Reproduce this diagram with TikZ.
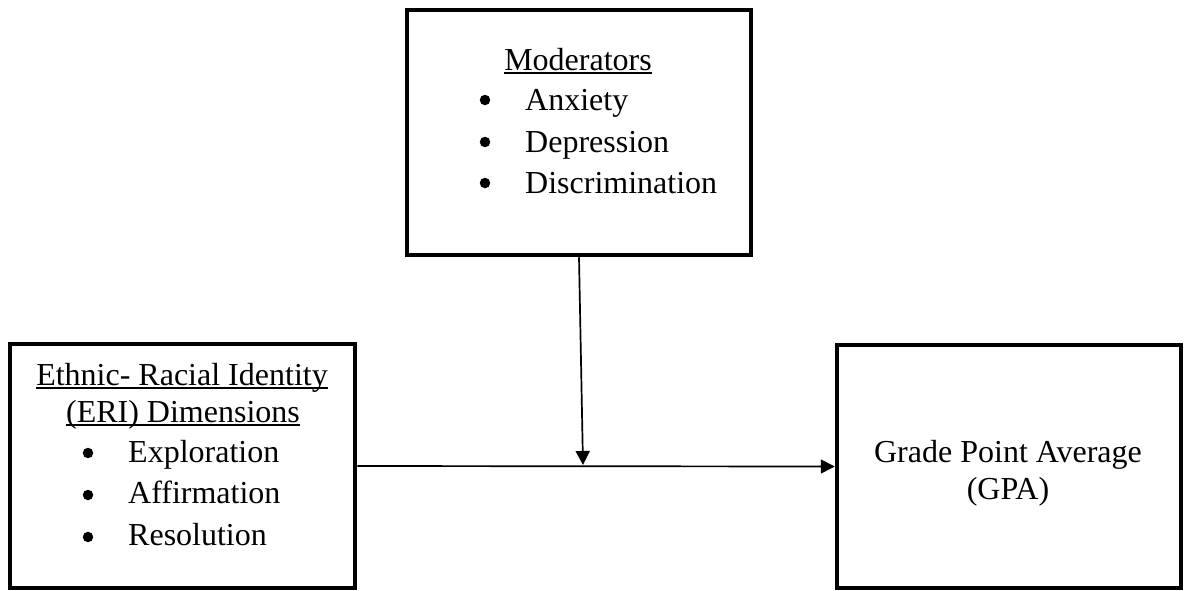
\documentclass[tikz,border=0pt]{standalone}
\usepackage{fontspec}
\setmainfont{Liberation Serif}
\usetikzlibrary{arrows.meta}
\begin{document}
\begin{tikzpicture}[x=1pt,y=-1pt,
  box/.style={draw, line width=4.5pt, inner sep=0pt},
  txt/.style={font=\fontsize{32}{38}\selectfont, inner sep=0pt, anchor=base},
  item/.style={txt, anchor=base west},
  bul/.style={circle, fill, inner sep=0pt, minimum size=10.5pt},
  arr/.style={line width=1.7pt, -{Triangle[length=14pt,width=14pt]}},
  uline/.style={line width=2pt}]
\useasboundingbox (0,0) rectangle (1185,590);
% boxes
\node[box, minimum width=344pt, minimum height=245pt] (mod) at (579,132.5) {};
\node[box, minimum width=345pt, minimum height=244pt] (eri) at (182.5,466) {};
\node[box, minimum width=344pt, minimum height=243pt] (gpa) at (1009,466.5) {};
% moderators text
\node[txt] (modt) at (578,70) {Moderators};
\draw[uline] ([yshift=-3pt]modt.base west) -- ([yshift=-3pt]modt.base east);
\node[bul] (mb1) at (485,100) {};
\node[bul] (mb2) at (485,142) {};
\node[bul] (mb3) at (485,183) {};
\node[item] (anx) at (525,110) {Anxiety};
\node[item] (dep) at (525,152) {Depression};
\node[item] (dis) at (525,193) {Discrimination};
% ERI text
\node[txt] (erit1) at (182,385) {Ethnic- Racial Identity};
\node[txt] (erit2) at (183,422) {(ERI) Dimensions};
\draw[uline] ([yshift=-3pt]erit1.base west) -- ([yshift=-3pt]erit1.base east);
\draw[uline] ([yshift=-3pt]erit2.base west) -- ([yshift=-3pt]erit2.base east);
\node[bul] (eb1) at (88,453) {};
\node[bul] (eb2) at (88,495) {};
\node[bul] (eb3) at (88,537) {};
\node[item] (exp) at (128,462) {Exploration};
\node[item] (aff) at (128,503) {Affirmation};
\node[item] (res) at (128,545) {Resolution};
% GPA text
\node[txt] (g1) at (1008,462) {Grade Point Average};
\node[txt] (g2) at (1008,499) {(GPA)};
% connectors
\coordinate (join) at (583,465);
\draw[arr] (eri.east) -- (gpa.west);
\draw[arr] (mod.south) -- (join);
\end{tikzpicture}
\end{document}
